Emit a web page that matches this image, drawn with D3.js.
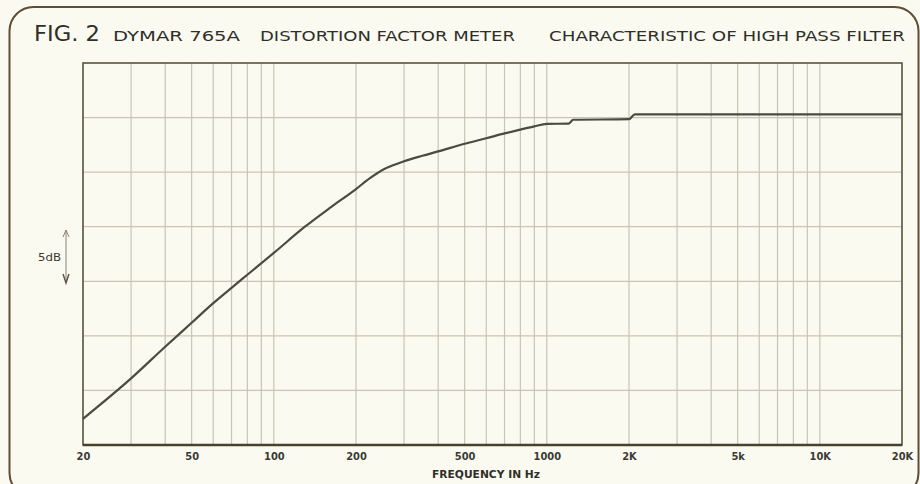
<!DOCTYPE html>
<html><head><meta charset="utf-8">
<script src="https://cdn.jsdelivr.net/npm/d3@7"></script>
<style>
html,body{margin:0;padding:0;background:#fbfaf1;}
svg{display:block;}
</style></head>
<body>
<svg id="chart" width="920" height="484"></svg>
<script>
// Frequency response of the high-pass filter (relative dB, 5 dB per grid division)
const freqs = [20, 30, 40, 50, 60, 70, 80, 100, 130, 160, 200, 225, 250, 275, 300, 350, 400, 500, 600, 700, 800, 900, 1000, 1200, 1250, 2000, 2100, 20000];
const levels = [-27.6, -23.9, -21.0, -18.8, -17.0, -15.6, -14.4, -12.4, -10.0, -8.3, -6.55, -5.55, -4.8, -4.35, -4.0, -3.5, -3.1, -2.4, -1.9, -1.45, -1.1, -0.8, -0.58, -0.55, -0.2, -0.15, 0.3, 0.3];
const tickValues = [20, 50, 100, 200, 500, 1000, 2000, 5000, 10000, 20000];
const tickLabels = ["20", "50", "100", "200", "500", "1000", "2K", "5k", "10K", "20K"];
const gridFreqs = [20,30,40,50,60,70,80,90,100,200,300,400,500,600,700,800,900,1000,2000,3000,4000,5000,6000,7000,8000,9000,10000,20000];
const gridLevels = [-30, -25, -20, -15, -10, -5, 0, 5];
const titleParts = ["FIG. 2", "DYMAR 765A", "DISTORTION FACTOR METER", "CHARACTERISTIC OF HIGH PASS FILTER"];
const xTitle = "FREQUENCY IN Hz";
const scaleLabel = "5dB";

const svg = d3.select("#chart");
const L = 83, R = 902, T = 63, B = 445;
const x = d3.scaleLog().domain([20, 20000]).range([L, R]);
const y = d3.scaleLinear().domain([-30, 5]).range([B, T]);

// outer rounded frame
svg.append("rect").attr("x", 9.5).attr("y", 7).attr("width", 909).attr("height", 490)
  .attr("rx", 24).attr("fill", "none").attr("stroke", "#5e4d33").attr("stroke-width", 2);

// title
const tfont = "'DejaVu Sans', sans-serif";
const tspec = [
  {x: 34, size: 21, len: 66},
  {x: 113, size: 13.5, len: 127},
  {x: 260, size: 13.5, len: 255},
  {x: 549, size: 13.5, len: 356}
];
titleParts.forEach((t, i) => {
  svg.append("text").attr("x", tspec[i].x).attr("y", 41)
    .attr("font-family", tfont).attr("font-size", tspec[i].size)
    .attr("fill", "#2f2f2a").attr("textLength", tspec[i].len).attr("lengthAdjust", "spacingAndGlyphs")
    .text(t);
});

// grid
const g = svg.append("g");
g.selectAll("line.v").data(gridFreqs).enter().append("line")
  .attr("x1", d => x(d)).attr("x2", d => x(d)).attr("y1", T).attr("y2", B)
  .attr("stroke", "#c9c5b2").attr("stroke-width", 1.2);
g.selectAll("line.h").data(gridLevels).enter().append("line")
  .attr("x1", L).attr("x2", R).attr("y1", d => y(d)).attr("y2", d => y(d))
  .attr("stroke", "#c9c5b2").attr("stroke-width", 1.2);

// plot border
svg.append("rect").attr("x", L).attr("y", T).attr("width", R - L).attr("height", B - T)
  .attr("fill", "none").attr("stroke", "#5b5a44").attr("stroke-width", 1.6);
svg.append("line").attr("x1", L).attr("x2", R).attr("y1", B).attr("y2", B)
  .attr("stroke", "#44432f").attr("stroke-width", 2.4);

// x axis labels via d3 axis
const axis = d3.axisBottom(x).tickValues(tickValues).tickSize(0).tickPadding(0)
  .tickFormat((d, i) => tickLabels[i]);
const ax = svg.append("g").attr("transform", `translate(0,${B})`).call(axis);
ax.select(".domain").remove();
ax.selectAll("text").attr("y", 15).attr("dy", 0)
  .attr("font-family", "'DejaVu Sans Condensed', 'DejaVu Sans', sans-serif")
  .attr("font-weight", "bold").attr("font-size", 11).attr("fill", "#3a3a34");

svg.append("text").attr("x", 486).attr("y", 478).attr("text-anchor", "middle")
  .attr("font-family", "'DejaVu Sans Condensed', 'DejaVu Sans', sans-serif")
  .attr("font-weight", "bold").attr("font-size", 11).attr("fill", "#2f2f2a")
  .attr("textLength", 108).attr("lengthAdjust", "spacingAndGlyphs").text(xTitle);

// 5 dB scale marker
svg.append("text").attr("x", 38).attr("y", 261)
  .attr("font-family", "'DejaVu Sans Condensed', 'DejaVu Sans', sans-serif")
  .attr("font-size", 11).attr("fill", "#3a3a34")
  .attr("textLength", 23).attr("lengthAdjust", "spacingAndGlyphs").text(scaleLabel);
svg.append("line").attr("x1", 66).attr("x2", 66).attr("y1", 230).attr("y2", 283)
  .attr("stroke", "#8a8270").attr("stroke-width", 1);
svg.append("path").attr("d", "M63,237 L66,230 L69,237").attr("fill", "none").attr("stroke", "#8a8270").attr("stroke-width", 1);
svg.append("path").attr("d", "M63,274 L66,283 L69,274").attr("fill", "none").attr("stroke", "#5a5444").attr("stroke-width", 1.4);

// response curve
const pts = freqs.map((f, i) => [f, levels[i]]);
const line = d3.line().x(d => x(d[0])).y(d => y(d[1])).curve(d3.curveMonotoneX);
svg.append("path").datum(pts).attr("d", line)
  .attr("fill", "none").attr("stroke", "#4a4c40").attr("stroke-width", 2.2)
  .attr("stroke-linejoin", "round");
</script>
</body></html>
